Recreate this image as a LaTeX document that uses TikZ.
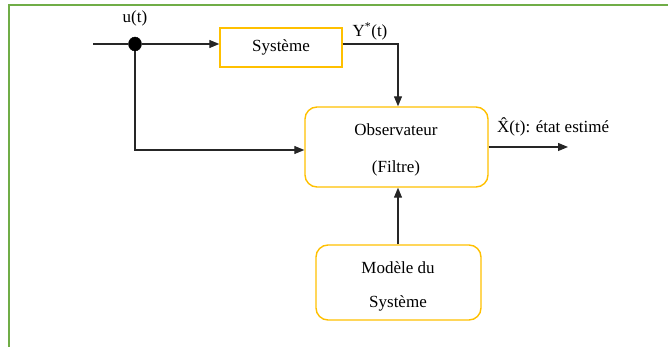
\documentclass[tikz,border=0pt]{standalone}
\usepackage{fontspec}
\setmainfont{Liberation Serif}
\usetikzlibrary{arrows.meta,shapes.geometric}
\definecolor{framegreen}{RGB}{112,173,71}
\definecolor{boxyellow}{RGB}{255,192,0}
\begin{document}
\begin{tikzpicture}[x=1pt,y=-1pt,
  every node/.style={font=\fontsize{17}{20}\selectfont},
  blockbox/.style={draw=boxyellow,line width=1.4pt,inner sep=0pt},
  wire/.style={line width=1.2pt,draw=black!85},
  flow/.style={wire,-{Triangle[length=10pt,width=8pt]}},
  lbl/.style={inner sep=0pt}]
\useasboundingbox (0,0) rectangle (670,347);
% outer frame (top and left edges)
\draw[framegreen,line width=2.6pt] (668,5) -- (9,5) -- (9,347);

% blocks
\node[blockbox,minimum width=122pt,minimum height=39pt] (sys) at (281,47.5) {Système};
\node[blockbox,rounded corners=12pt,minimum width=183pt,minimum height=80pt] (obs) at (396.5,147) {};
\node[lbl] (obs1) at (396,130) {Observateur};
\node[lbl] (obs2) at (396,168) {(Filtre)};
\node[blockbox,rounded corners=12pt,minimum width=165pt,minimum height=75pt] (mod) at (398.5,282.5) {};
\node[lbl] (mod1) at (398,268) {Modèle du};
\node[lbl] (mod2) at (398,303) {Système};

% input junction
\coordinate (in) at (93,44);
\node[draw=black,fill=black,ellipse,minimum width=13pt,minimum height=14pt,inner sep=0pt] (dot) at (135,44) {};
\node[lbl] (u) at (135,18) {u(t)};
\node[lbl,anchor=base] (y) at (370,37) {Y\textsuperscript{*}(t)};
\node[lbl,anchor=base west] (xh) at (497,133) {\^{X}(t): état estimé};

\coordinate (yc) at (398,44);
\coordinate (lc) at (135,150);
\coordinate (out) at (568,147);

% connectors
\draw[wire] (in) -- (dot);
\draw[flow] (dot) -- (sys.west |- dot);
\draw[flow] (sys.east |- yc) -- (yc) -- (obs.north -| yc);
\draw[flow] (dot) -- (lc) -- (obs.west |- lc);
\draw[flow] (obs.east |- out) -- (out);
\draw[flow] (mod.north -| yc) -- (obs.south -| yc);
\end{tikzpicture}
\end{document}
